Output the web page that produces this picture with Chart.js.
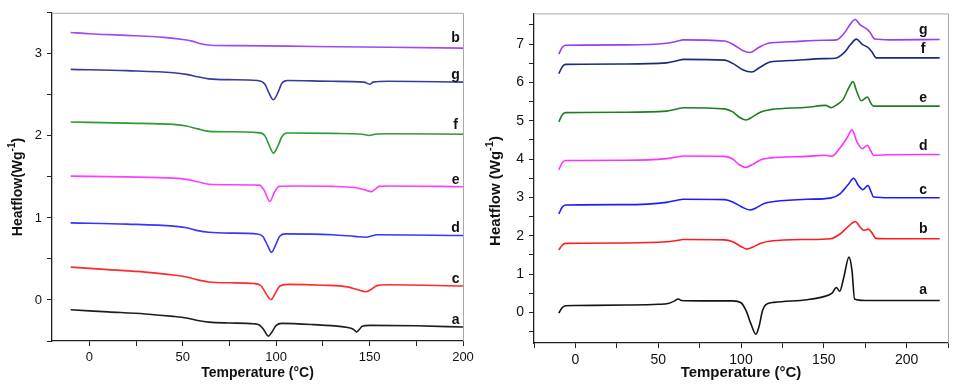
<!DOCTYPE html>
<html>
<head>
<meta charset="utf-8">
<script src="https://cdn.jsdelivr.net/npm/chart.js@4.4.1/dist/chart.umd.min.js"></script>
<style>
    html, body { margin: 0; padding: 0; background: #fff; }
    #wrap { position: relative; width: 957px; height: 388px; }
    #left { position: absolute; left: 0; top: 0; }
    #right { position: absolute; left: 478px; top: 0; }
</style>
</head>
<body>
<div id="wrap">
    <canvas id="left" width="478" height="388"></canvas>
    <canvas id="right" width="479" height="388"></canvas>
</div>
<script>
// left panel: [temperature, heatflow]
var leftA = [[-10,-0.12],[10,-0.145],[30,-0.17],[45,-0.2],[52,-0.22],[58,-0.25],[64,-0.27],[75,-0.28],[88,-0.29],[91,-0.305],[93,-0.35],[95.8,-0.44],[98,-0.38],[100,-0.31],[103,-0.285],[120,-0.3],[135,-0.325],[140,-0.345],[142,-0.37],[143,-0.39],[144.5,-0.36],[146,-0.32],[150,-0.31],[175,-0.315],[200,-0.33]];
var leftC = [[-10,0.40],[10,0.37],[30,0.34],[45,0.305],[52,0.28],[58,0.245],[64,0.22],[75,0.21],[88,0.2],[92,0.17],[94.5,0.08],[97.2,0.005],[99.5,0.08],[102,0.17],[106,0.19],[125,0.18],[138,0.16],[143,0.13],[148,0.10],[151,0.13],[154,0.175],[160,0.185],[200,0.17]];
var leftD = [[-10,0.94],[20,0.925],[45,0.9],[52,0.88],[58,0.845],[64,0.825],[75,0.815],[90,0.805],[93,0.77],[95.5,0.66],[97.5,0.58],[99.5,0.66],[102,0.78],[105,0.805],[130,0.795],[142,0.775],[148,0.765],[151,0.78],[154,0.795],[200,0.785]];
var leftE = [[-10,1.51],[20,1.5],[45,1.485],[52,1.47],[58,1.44],[64,1.41],[75,1.405],[91,1.40],[93.5,1.34],[96.6,1.20],[99,1.31],[101.5,1.385],[110,1.39],[130,1.385],[142,1.37],[147,1.345],[151,1.32],[153,1.35],[155,1.385],[160,1.39],[200,1.38]];
var leftF = [[-10,2.17],[20,2.155],[45,2.14],[52,2.12],[58,2.085],[64,2.055],[75,2.05],[90,2.04],[94,2.0],[96,1.9],[98.5,1.79],[101,1.88],[103,1.99],[106,2.035],[130,2.03],[146,2.02],[150,2.005],[153,2.02],[160,2.025],[200,2.02]];
var leftG = [[-10,2.81],[20,2.795],[45,2.77],[52,2.75],[58,2.72],[64,2.695],[75,2.685],[90,2.675],[94,2.63],[96,2.53],[98.5,2.44],[101,2.53],[103,2.64],[106,2.675],[130,2.665],[147,2.655],[150,2.63],[152,2.655],[160,2.665],[200,2.655]];
var leftB = [[-10,3.26],[0,3.245],[20,3.225],[40,3.2],[50,3.175],[55,3.155],[60,3.12],[65,3.105],[80,3.1],[120,3.09],[160,3.08],[200,3.07]];

// right panel: [temperature, heatflow]
var rightA = [[-10,-0.02],[-8,0.12],[-6,0.17],[0,0.18],[30,0.19],[50,0.21],[56,0.23],[60,0.3],[62,0.35],[64,0.31],[75,0.3],[95,0.3],[100,0.25],[103,0.05],[106,-0.3],[109,-0.57],[111,-0.35],[113,0.05],[115,0.2],[120,0.26],[140,0.33],[150,0.41],[155,0.5],[157.6,0.65],[159.6,0.55],[162,0.9],[165.2,1.44],[167,1.1],[168.6,0.35],[175,0.31],[220,0.31]];
var rightB = [[-10,1.63],[-8,1.75],[-6,1.80],[30,1.81],[55,1.84],[62,1.88],[65,1.9],[90,1.89],[95,1.84],[100,1.72],[103.5,1.65],[107,1.7],[112,1.8],[118,1.86],[140,1.9],[154,1.92],[160,2.05],[165,2.25],[169,2.37],[172,2.22],[174,2.14],[177,2.17],[179,2.08],[181.5,1.93],[190,1.92],[220,1.92]];
var rightC = [[-10,2.57],[-8,2.74],[-6,2.80],[30,2.81],[55,2.87],[62,2.93],[65,2.95],[90,2.94],[95,2.88],[100,2.76],[105.5,2.67],[109,2.72],[114,2.84],[120,2.89],[140,2.95],[154,2.98],[160,3.1],[165,3.35],[168,3.50],[171,3.3],[173.6,3.20],[176.7,3.31],[178.5,3.15],[180,3.01],[190,2.99],[220,2.99]];
var rightD = [[-10,3.72],[-8,3.9],[-6,3.96],[30,3.97],[55,4.01],[62,4.06],[65,4.08],[90,4.07],[95,4.0],[99,3.85],[103,3.78],[107,3.86],[112,3.98],[118,4.03],[140,4.07],[151,4.10],[154.6,4.07],[160,4.3],[164,4.55],[167,4.76],[170,4.45],[173.3,4.27],[176.3,4.36],[178.5,4.2],[180,4.10],[190,4.11],[220,4.12]];
var rightE = [[-10,4.97],[-8,5.15],[-6,5.21],[30,5.22],[55,5.25],[62,5.31],[65,5.34],[90,5.31],[95,5.23],[99,5.09],[103,5.02],[107,5.1],[112,5.23],[118,5.29],[140,5.35],[151,5.40],[154.6,5.34],[158,5.42],[161.6,5.55],[165,5.85],[167.6,6.02],[170,5.75],[172.7,5.52],[176.3,5.62],[178.5,5.45],[180,5.38],[220,5.38]];
var rightF = [[-10,6.23],[-8,6.40],[-6,6.47],[30,6.48],[55,6.51],[62,6.57],[65,6.6],[90,6.58],[96,6.47],[101,6.33],[106.5,6.27],[111,6.38],[117.5,6.53],[130,6.57],[150,6.62],[157,6.63],[162.6,6.79],[166,6.98],[169.7,7.13],[173,7.0],[176.7,6.91],[179,6.8],[181.7,6.64],[190,6.64],[220,6.64]];
var rightG = [[-10,6.74],[-8,6.91],[-6,6.97],[30,6.98],[55,7.02],[62,7.08],[65,7.11],[90,7.08],[96,6.97],[101,6.83],[105.5,6.78],[110,6.89],[116.5,7.02],[130,7.06],[150,7.10],[157.6,7.11],[162.6,7.3],[166,7.52],[169,7.64],[172,7.5],[175.7,7.40],[178,7.3],[180.7,7.13],[190,7.11],[220,7.12]];

// curve letters: [name, temperature, heatflow]
var leftLabels = [['b',196,3.19],['g',196,2.74],['f',196,2.13],['e',196,1.455],['d',196,0.875],['c',196,0.25],['a',196,-0.25]];
var rightLabels = [['g',210,7.37],['f',210,6.87],['e',210,5.58],['d',210,4.33],['c',210,3.19],['b',210,2.17],['a',210,0.58]];

var FONT = "'Liberation Sans', Arial, sans-serif";

function toXY (arr) {
    return arr.map(function (p) {
        return { x: p[0], y: p[1] };
    });
}

function line (arr, color) {
    return {
        data: toXY(arr),
        borderColor: color,
        borderWidth: 1.6,
        pointRadius: 0,
        fill: false,
        cubicInterpolationMode: 'monotone'
    };
}

// draws the gray frame, the curve letters and the axis titles
var decorPlugin = {
    id: 'decor',
    afterDraw: function (chart) {
        var o = chart.options.plugins.decor,
            ctx = chart.ctx,
            area = chart.chartArea,
            xs = chart.scales.x,
            ys = chart.scales.y;

        ctx.save();
        ctx.strokeStyle = '#a8a8a8';
        ctx.lineWidth = 1;
        ctx.beginPath();
        ctx.moveTo(area.left, area.top + 0.5);
        ctx.lineTo(area.right + 0.5, area.top + 0.5);
        ctx.lineTo(area.right + 0.5, area.bottom);
        ctx.stroke();

        ctx.fillStyle = '#111';
        ctx.textAlign = 'center';
        ctx.textBaseline = 'middle';
        ctx.font = 'bold 14px ' + FONT;
        o.labels.forEach(function (l) {
            ctx.fillText(l[0], xs.getPixelForValue(l[1]), ys.getPixelForValue(l[2]));
        });

        ctx.font = 'bold ' + o.xFont + 'px ' + FONT;
        ctx.fillText('Temperature (°C)', (area.left + area.right) / 2, o.xTitleY);

        // rotated y title with superscript
        ctx.translate(o.yTitleX, o.yTitleY);
        ctx.rotate(-Math.PI / 2);
        var main = o.yText,
            bigFont = 'bold ' + o.yFont + 'px ' + FONT,
            smallFont = 'bold ' + Math.round(o.yFont * 0.7) + 'px ' + FONT;
        ctx.font = bigFont;
        var w1 = ctx.measureText(main).width,
            w3 = ctx.measureText(')').width;
        ctx.font = smallFont;
        var w2 = ctx.measureText('-1').width,
            start = -(w1 + w2 + w3) / 2;
        ctx.textAlign = 'left';
        ctx.font = bigFont;
        ctx.fillText(main, start, 0);
        ctx.font = smallFont;
        ctx.fillText('-1', start + w1, -o.yFont * 0.4);
        ctx.font = bigFont;
        ctx.fillText(')', start + w1 + w2, 0);
        ctx.restore();
    }
};

function makeChart (id, datasets, cfg) {
    return new Chart(document.getElementById(id), {
        type: 'line',
        data: { datasets: datasets },
        plugins: [decorPlugin],
        options: {
            responsive: false,
            animation: false,
            layout: { padding: { top: cfg.padTop, right: cfg.padRight, left: 0, bottom: 0 } },
            plugins: {
                legend: { display: false },
                tooltip: { enabled: false },
                decor: cfg.decor
            },
            scales: {
                x: {
                    type: 'linear',
                    min: cfg.xMin,
                    max: cfg.xMax,
                    afterFit: function (scale) {
                        scale.height = cfg.xAxisHeight;
                    },
                    grid: { drawOnChartArea: false, drawTicks: true, tickLength: 5, color: '#222' },
                    border: { display: true, color: '#222', width: 1.3 },
                    ticks: {
                        stepSize: 25,
                        includeBounds: false,
                        autoSkip: false,
                        maxRotation: 0,
                        padding: 4,
                        color: '#111',
                        font: { family: FONT, size: cfg.tickFont },
                        callback: function (v) {
                            return v % 50 === 0 ? v : '';
                        }
                    }
                },
                y: {
                    type: 'linear',
                    min: cfg.yMin,
                    max: cfg.yMax,
                    afterFit: function (scale) {
                        scale.width = cfg.yAxisWidth;
                    },
                    grid: { drawOnChartArea: false, drawTicks: true, tickLength: 5, color: '#222' },
                    border: { display: true, color: '#222', width: 1.3 },
                    ticks: {
                        stepSize: 0.5,
                        includeBounds: false,
                        autoSkip: false,
                        padding: 5,
                        color: '#111',
                        font: { family: FONT, size: cfg.tickFont },
                        callback: function (v) {
                            return Math.abs(v - Math.round(v)) < 1e-6 ? Math.round(v) : '';
                        }
                    }
                }
            }
        }
    });
}

makeChart('left', [
    line(leftA, '#1e1e1e'),
    line(leftC, '#ff2a2a'),
    line(leftD, '#3636ff'),
    line(leftE, '#ff3cff'),
    line(leftF, '#2f9a2f'),
    line(leftG, '#393a9c'),
    line(leftB, '#a246f6')
], {
    xMin: -20, xMax: 200, yMin: -0.5, yMax: 3.5,
    padTop: 10, padRight: 15, xAxisHeight: 47, yAxisWidth: 52,
    tickFont: 13,
    decor: {
        labels: leftLabels, xFont: 14, xTitleY: 373,
        yText: 'Heatflow(Wg', yFont: 14, yTitleX: 18, yTitleY: 187
    }
});

makeChart('right', [
    line(rightA, '#141414'),
    line(rightB, '#ff1c1c'),
    line(rightC, '#1c1cff'),
    line(rightD, '#ff30ff'),
    line(rightE, '#1f7d1f'),
    line(rightF, '#1c2a7c'),
    line(rightG, '#9a3ef4')
], {
    xMin: -25, xMax: 225, yMin: -0.8, yMax: 7.8,
    padTop: 8, padRight: 9, xAxisHeight: 45, yAxisWidth: 56,
    tickFont: 14,
    decor: {
        labels: rightLabels, xFont: 15, xTitleY: 373,
        yText: 'Heatflow (Wg', yFont: 15, yTitleX: 18, yTitleY: 191
    }
});
</script>
</body>
</html>
